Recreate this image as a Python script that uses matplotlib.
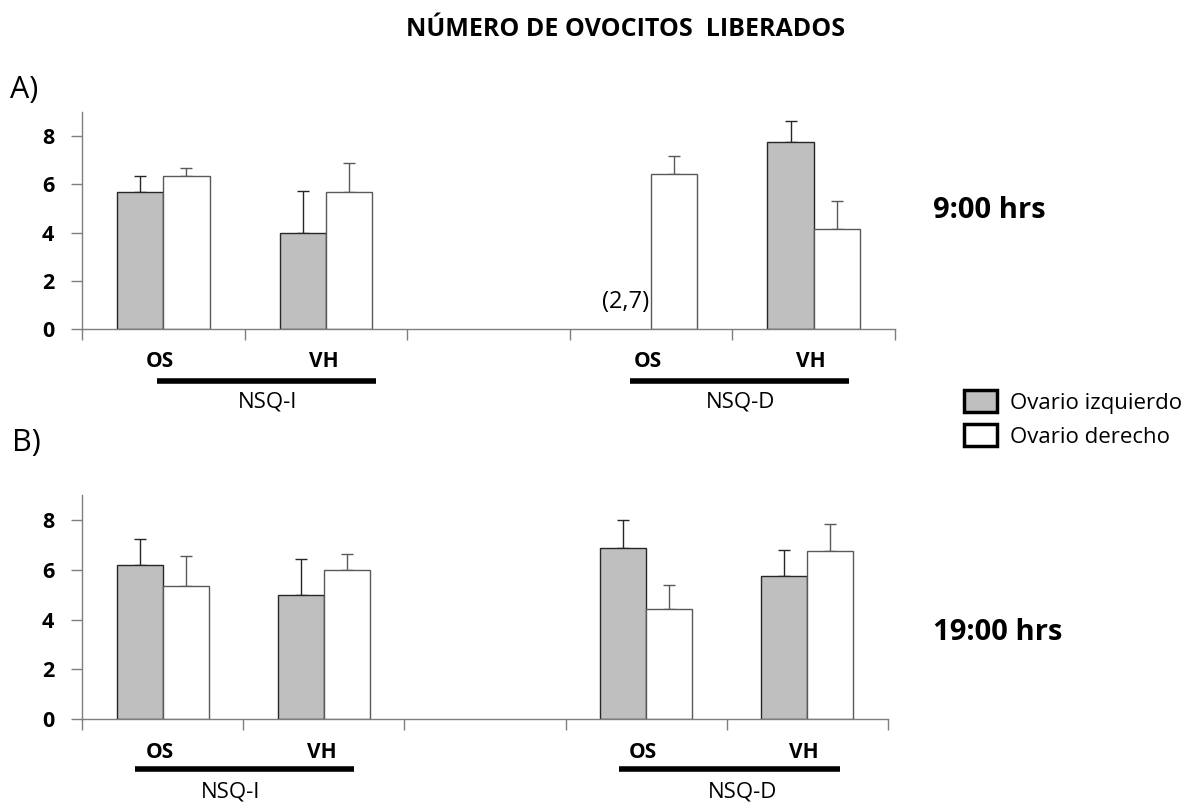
import numpy as np
import matplotlib
matplotlib.use("Agg")
import matplotlib.pyplot as plt
from matplotlib.patches import Patch

plt.rcParams['font.family'] = ['Open Sans', 'DejaVu Sans']

# categories along x: NSQ-I OS, NSQ-I VH, (empty), NSQ-D OS, NSQ-D VH
groups = ["OS", "VH", "", "OS", "VH"]

# A) 9:00 hrs
a_izq = [5.67, 4.0, None, None, 7.75]
a_izq_err = [0.66, 1.74, None, None, 0.89]
a_der = [6.33, 5.67, None, 6.42, 4.13]
a_der_err = [0.36, 1.23, None, 0.76, 1.19]

# B) 19:00 hrs
b_izq = [6.19, 5.0, None, 6.87, 5.76]
b_izq_err = [1.03, 1.42, None, 1.12, 1.05]
b_der = [5.35, 6.01, None, 4.42, 6.77]
b_der_err = [1.21, 0.63, None, 0.96, 1.05]

yticks = [0, 2, 4, 6, 8]
gray = "#bfbfbf"
W = 0.285

fig = plt.figure(figsize=(11.83, 8.02), dpi=100)
H = 802.0
FW = 1183.0


def draw_panel(ax, izq, izq_err, der, der_err):
    x = np.arange(len(groups)) + 0.5
    for i in range(len(groups)):
        if izq[i] is not None:
            ax.bar(x[i] - W / 2, izq[i], W, color=gray, edgecolor="#262626",
                   linewidth=1.0, zorder=2)
            ax.errorbar(x[i] - W / 2, izq[i], yerr=[[0], [izq_err[i]]],
                        fmt="none", ecolor="#262626", elinewidth=1.0,
                        capsize=4.5, capthick=1.0, zorder=1)
        if der[i] is not None:
            ax.bar(x[i] + W / 2, der[i], W, color="white", edgecolor="#595959",
                   linewidth=1.0, zorder=2)
            ax.errorbar(x[i] + W / 2, der[i], yerr=[[0], [der_err[i]]],
                        fmt="none", ecolor="#595959", elinewidth=1.0,
                        capsize=4.5, capthick=1.0, zorder=1)
    ax.set_xlim(0, 5)
    ax.set_ylim(0, 9)
    ax.set_xticks(range(6))
    ax.set_xticklabels([])
    ax.set_yticks(yticks)
    ax.tick_params(axis="both", direction="out", length=8, width=1,
                   color="#7f7f7f")
    ax.tick_params(axis="y", pad=12, labelsize=15.5)
    for lab in ax.get_yticklabels():
        lab.set_fontweight("bold")
    for s in ["top", "right"]:
        ax.spines[s].set_visible(False)
    for s in ["left", "bottom"]:
        ax.spines[s].set_color("#7f7f7f")
        ax.spines[s].set_linewidth(1.0)


def group_labels(ax, pos, y_os, y_line, y_nsq):
    tr = ax.get_xaxis_transform()
    for (os_x, vh_x, x0, x1, nx, name) in pos:
        ax.text(os_x, y_os, "OS", transform=tr, ha="center", va="center",
                fontsize=15, fontweight="bold")
        ax.text(vh_x, y_os, "VH", transform=tr, ha="center", va="center",
                fontsize=15, fontweight="bold")
        ax.plot([x0, x1], [y_line, y_line], transform=tr, color="black",
                linewidth=4, solid_capstyle="butt", clip_on=False)
        ax.text(nx, y_nsq, name, transform=tr, ha="center", va="center",
                fontsize=16)


# panel A
axA = fig.add_axes([82 / FW, 1 - 329 / H, (895 - 82) / FW, (329 - 112) / H])
draw_panel(axA, a_izq, a_izq_err, a_der, a_der_err)
group_labels(axA, [(0.48, 1.49, 0.46, 1.81, 1.14, "NSQ-I"),
                   (3.48, 4.48, 3.37, 4.72, 4.05, "NSQ-D")],
             -0.152, -0.240, -0.336)
axA.text(3.49, 1.1, "(2,7)", ha="right", va="center", fontsize=17)

# panel B
axB = fig.add_axes([82 / FW, 1 - 719.3 / H, (888 - 82) / FW, (719.3 - 495) / H])
draw_panel(axB, b_izq, b_izq_err, b_der, b_der_err)
group_labels(axB, [(0.48, 1.49, 0.33, 1.69, 0.92, "NSQ-I"),
                   (3.48, 4.48, 3.33, 4.70, 4.10, "NSQ-D")],
             -0.146, -0.221, -0.324)

fig.text(626 / FW, 1 - 30 / H, "NÚMERO DE OVOCITOS  LIBERADOS",
         ha="center", va="center", fontsize=18, fontweight="bold")
fig.text(10 / FW, 1 - 90 / H, "A)", ha="left", va="center", fontsize=22)
fig.text(12 / FW, 1 - 443 / H, "B)", ha="left", va="center", fontsize=22)
fig.text(933 / FW, 1 - 210 / H, "9:00 hrs", ha="left", va="center",
         fontsize=21, fontweight="bold")
fig.text(933 / FW, 1 - 632 / H, "19:00 hrs", ha="left", va="center",
         fontsize=21, fontweight="bold")

handles = [Patch(facecolor=gray, edgecolor="black", linewidth=2.5),
           Patch(facecolor="white", edgecolor="black", linewidth=2.5)]
fig.legend(handles, ["Ovario izquierdo", "Ovario derecho"],
           loc="upper left", bbox_to_anchor=(964 / FW, 1 - 390 / H),
           frameon=False, fontsize=16, handlelength=1.5, handleheight=1.18,
           handletextpad=0.55, labelspacing=0.45, borderpad=0,
           borderaxespad=0)

fig.savefig("out.png", dpi=100)
